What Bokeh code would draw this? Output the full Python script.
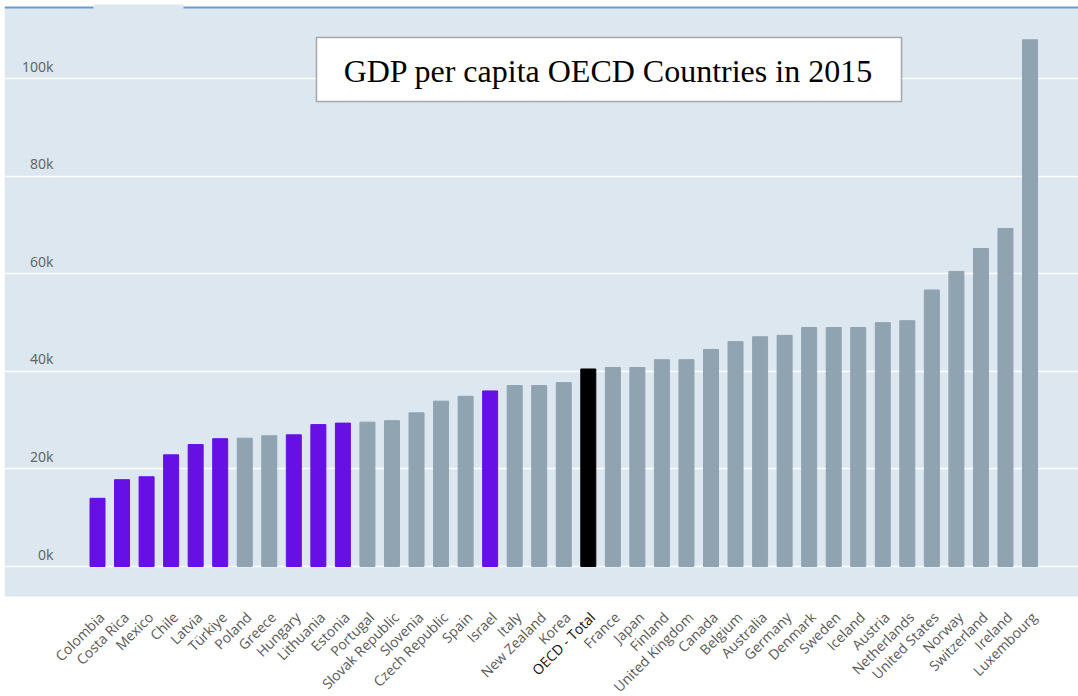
import math
from bokeh.plotting import figure
from bokeh.models import FixedTicker, BoxAnnotation, Grid, ColumnDataSource, Label
from bokeh.core.properties import value
from bokeh.embed import file_html
from bokeh.resources import INLINE

# ---------------- data ----------------
countries = ["Colombia", "Costa Rica", "Mexico", "Chile", "Latvia", "Türkiye", "Poland",
             "Greece", "Hungary", "Lithuania", "Estonia", "Portugal", "Slovak Republic",
             "Slovenia", "Czech Republic", "Spain", "Israel", "Italy", "New Zealand", "Korea",
             "OECD - Total", "France", "Japan", "Finland", "United Kingdom", "Canada",
             "Belgium", "Australia", "Germany", "Denmark", "Sweden", "Iceland", "Austria",
             "Netherlands", "United States", "Norway", "Switzerland", "Ireland", "Luxembourg"]
gdp_per_capita = [13980, 17800, 18400, 22900, 25000, 26200, 26300,
                  26800, 27000, 29100, 29400, 29600, 29900,
                  31500, 33900, 34900, 36000, 37100, 37100, 37700,
                  40500, 40800, 40800, 42400, 42400, 44500,
                  46100, 47100, 47400, 49000, 49000, 49000, 50000,
                  50400, 56700, 60500, 65200, 69300, 108000]
highlight = ["focus", "focus", "focus", "focus", "focus", "focus", "other",
             "other", "focus", "focus", "focus", "other", "other",
             "other", "other", "other", "focus", "other", "other", "other",
             "total", "other", "other", "other", "other", "other",
             "other", "other", "other", "other", "other", "other", "other",
             "other", "other", "other", "other", "other", "other"]
y_ticks = [0, 20000, 40000, 60000, 80000, 100000]
y_tick_labels = ["0k", "20k", "40k", "60k", "80k", "100k"]
title_text = "GDP per capita OECD Countries in 2015"

bar_colors = {"focus": "#6610e6", "other": "#8fa3b1", "total": "#000000"}
label_colors = {"focus": "#595959", "other": "#595959", "total": "#111111"}
BG = "#dde7f0"

# ---------------- layout (pixel geometry) ----------------
W, H = 1078, 696
PX_LEFT, PX_RIGHT, PX_TOP, PX_BOTTOM = 4, 1078, 7, 596
X0_PX, DX = 97.0, 24.54                  # first bar centre, bar spacing
Y0_PX, PY_PER = 566.0, 4.877 / 1000.0    # zero line, px per unit


def xd(px):
    return (px - X0_PX) / DX


def yd(py):
    return (Y0_PX - py) / PY_PER


idx = list(range(len(countries)))
src = ColumnDataSource(dict(x=idx, top=gdp_per_capita,
                            color=[bar_colors[g] for g in highlight],
                            lcolor=[label_colors[g] for g in highlight],
                            name=countries))

p = figure(width=W, height=H, output_backend="svg", toolbar_location=None,
           x_range=(xd(0), xd(W)), y_range=(yd(H), yd(0)),
           x_axis_location=None, y_axis_location=None,
           min_border=0, min_border_left=0, min_border_right=0,
           min_border_top=0, min_border_bottom=0)
p.background_fill_color = "white"
p.border_fill_color = "white"
p.outline_line_color = None
p.xgrid.visible = False
p.ygrid.visible = False

# plot-area background (and tab)
p.add_layout(BoxAnnotation(left=xd(PX_LEFT), right=xd(PX_RIGHT), top=yd(PX_TOP), bottom=yd(PX_BOTTOM),
                           fill_color=BG, fill_alpha=1.0, line_color=None, level="underlay"))
p.add_layout(BoxAnnotation(left=xd(93), right=xd(183), top=yd(4), bottom=yd(PX_TOP + 2),
                           fill_color=BG, fill_alpha=1.0, line_color=None, level="underlay"))
# top border line with gap
p.add_layout(BoxAnnotation(left=xd(PX_LEFT), right=xd(93), top=yd(6), bottom=yd(8),
                           fill_color="#6a9bcf", fill_alpha=1.0, line_color=None, level="underlay"))
p.add_layout(BoxAnnotation(left=xd(183), right=xd(PX_RIGHT), top=yd(6), bottom=yd(8),
                           fill_color="#6a9bcf", fill_alpha=1.0, line_color=None, level="underlay"))

grid = Grid(dimension=1, ticker=FixedTicker(ticks=y_ticks),
            grid_line_color="white", grid_line_width=1.6)
p.add_layout(grid)
p.add_layout(BoxAnnotation(left=xd(0), right=xd(PX_LEFT), top=yd(0), bottom=yd(H),
                           fill_color="white", fill_alpha=1.0, line_color=None, level="underlay"))

p.vbar(x="x", top="top", bottom=0, width=15 / DX, color="color", source=src)

# category labels under the plot area
p.text(x="x", y=yd(614), text="name", source=src, angle=math.pi / 4,
       x_offset=4, text_align="right", text_baseline="middle",
       text_font=value("Open Sans"), text_font_size="14px", text_color="lcolor")

# y tick labels inside the plot area
ysrc = ColumnDataSource(dict(y=y_ticks, t=y_tick_labels))
p.text(x=xd(53), y="y", text="t", source=ysrc, y_offset=-3,
       text_align="right", text_baseline="bottom",
       text_font=value("Noto Sans"), text_font_size="14px", text_color="#666666")

# title box
p.add_layout(BoxAnnotation(left=xd(316), right=xd(901), top=yd(37), bottom=yd(101),
                           fill_color="white", fill_alpha=1.0, line_color="black", line_width=1.6))
p.add_layout(Label(x=xd(608), y=yd(70), text=title_text, text_align="center",
                   text_baseline="middle", text_font="Liberation Serif",
                   text_font_size="32px", text_color="black"))

open("out.html", "w").write(file_html(p, INLINE))
